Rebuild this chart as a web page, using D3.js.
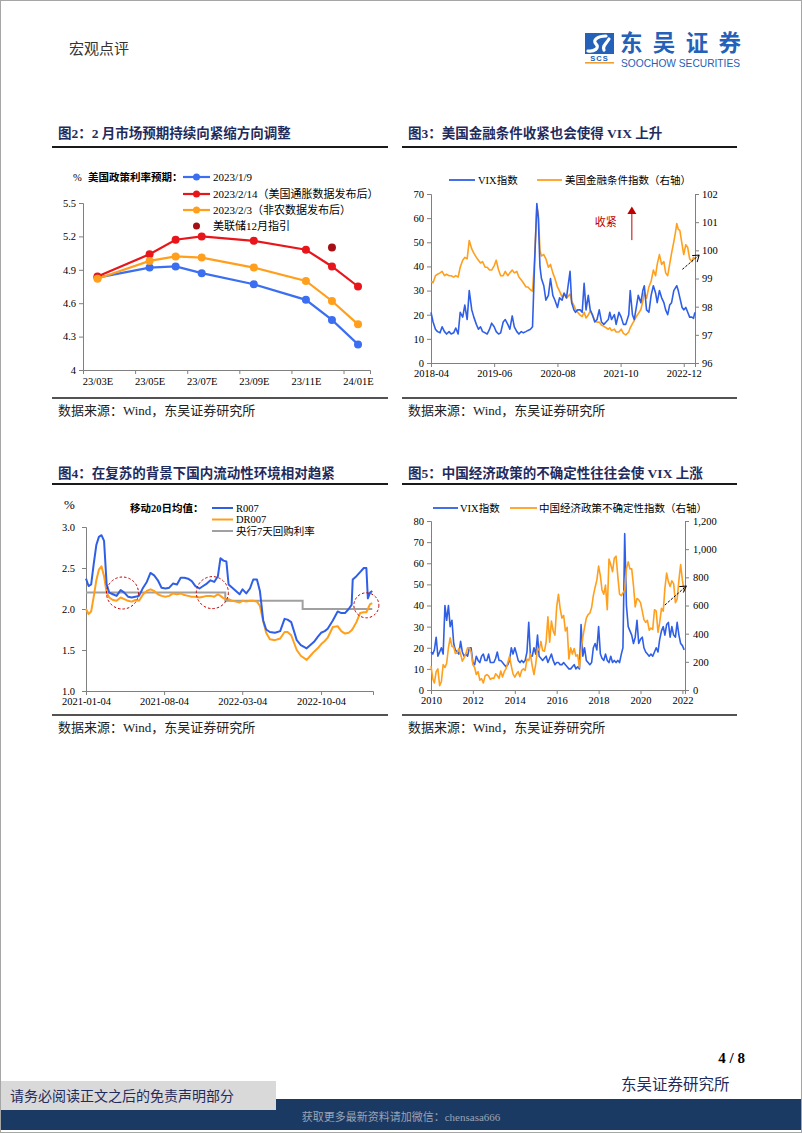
<!DOCTYPE html>
<html><head><meta charset="utf-8">
<script src="https://cdn.jsdelivr.net/npm/d3@7"></script>
<style>
body{margin:0;background:#fff;}
</style></head><body>
<svg id="page" width="802" height="1133"></svg>
<script>
// ---------------- DATA ----------------
// Fig 2
const fig2Months = [3,5,6,7,9,11,12,13];
const fig2TickLabels = ["23/03E","23/05E","23/07E","23/09E","23/11E","24/01E"];
const fig2TickMonths = [3,5,7,9,11,13];
const fig2YTicks = [4,4.3,4.6,4.9,5.2,5.5];
const rateJan9 = [4.83,4.92,4.93,4.87,4.77,4.63,4.45,4.23];
const rateFeb14 = [4.84,5.04,5.17,5.20,5.16,5.08,4.93,4.75];
const rateFeb3 = [4.82,4.98,5.02,5.01,4.92,4.80,4.62,4.41];
const fedDecMonth = 12, fedDecValue = 5.10;
const fig2Series = ["2023/1/9","2023/2/14（美国通胀数据发布后）","2023/2/3（非农数据发布后）","美联储12月指引"];

// Fig 3
const dates3 = ["2018-04-01","2018-04-15","2018-05-01","2018-05-15","2018-06-01","2018-06-15","2018-07-01","2018-07-15","2018-08-01","2018-08-15","2018-09-01","2018-09-15","2018-10-01","2018-10-15","2018-11-01","2018-11-15","2018-12-01","2018-12-15",
"2019-01-01","2019-01-15","2019-02-01","2019-02-15","2019-03-01","2019-03-15","2019-04-01","2019-04-15","2019-05-01","2019-05-15","2019-06-01","2019-06-15","2019-07-01","2019-07-15","2019-08-01","2019-08-15","2019-09-01","2019-09-15","2019-10-01","2019-10-15","2019-11-01","2019-11-15","2019-12-01","2019-12-15",
"2020-01-01","2020-01-15","2020-02-01","2020-02-15","2020-02-28","2020-03-15","2020-03-25","2020-04-05","2020-04-15","2020-05-01","2020-05-15","2020-06-01","2020-06-15","2020-07-01","2020-07-15","2020-08-01","2020-08-15","2020-09-01","2020-09-15","2020-10-01","2020-10-25","2020-11-05","2020-11-20","2020-12-01","2020-12-15",
"2021-01-01","2021-01-15","2021-01-28","2021-02-10","2021-02-25","2021-03-10","2021-03-25","2021-04-10","2021-04-25","2021-05-10","2021-05-25","2021-06-10","2021-06-25","2021-07-10","2021-07-20","2021-08-01","2021-08-20","2021-09-01","2021-09-20","2021-10-05","2021-10-20","2021-11-05","2021-11-25","2021-12-05","2021-12-20",
"2022-01-01","2022-01-15","2022-01-28","2022-02-15","2022-02-28","2022-03-10","2022-03-25","2022-04-10","2022-04-25","2022-05-10","2022-05-25","2022-06-05","2022-06-20","2022-07-05","2022-07-20","2022-08-01","2022-08-15","2022-08-28","2022-09-10","2022-09-25","2022-10-05","2022-10-15","2022-10-25","2022-11-05","2022-11-20","2022-12-01","2022-12-15","2022-12-28",
"2023-01-10","2023-01-25","2023-02-05","2023-02-14"];
const vix3 = [21,17,14,13,12.5,15,13,12,13,12,12.5,14.5,12,21,19,24,18,30,
22,19,16,14,15,13,12.5,12,14,16.5,15,13,12,12.5,17,18,16,14,19.5,15,13,12,13,12.5,
13,13.5,14,15,40,66,60,40,35,32,26,28,35,28,26,23,27,26,29,27,38,25,22,21,22,
22,21,33,22,28,22,20,17,18,22,17,16,17,18,21,18,20,16,21,19,16,16,20,30,20,
18,23,28,25,30,32,22,21,28,32,29,25,30,27,25,22,20,24,25,30,31,32,30,27,23,22,23,21,
19,19,18.5,21];
const fci3 = [98.9,98.85,99.1,99.15,99.2,99.25,99.1,99.15,99.1,99.1,99.05,99.1,99.05,99.4,99.65,99.75,99.7,100.35,
100.05,99.9,99.75,99.65,99.55,99.6,99.4,99.4,99.3,99.3,99.45,99.65,99.3,99.1,99.1,99.25,99.1,99.2,99.3,99.2,99.25,99.05,98.95,98.85,
98.7,98.7,98.6,98.55,99.6,101.55,101.3,100.0,99.8,99.85,99.7,99.4,99.5,99.2,99.0,98.7,98.55,98.35,98.45,98.3,98.45,98.2,98.05,97.9,97.8,
97.7,97.65,97.8,97.6,97.7,97.85,97.7,97.5,97.45,97.45,97.35,97.3,97.25,97.2,97.25,97.15,97.2,97.1,97.1,97.2,97.05,97.0,97.1,97.25,97.4,
97.5,97.65,97.75,97.9,98.2,98.5,98.3,98.7,98.9,99.3,99.1,99.5,99.85,99.5,99.6,99.2,99.1,99.5,99.9,100.3,100.6,100.95,100.75,100.7,100.2,99.85,100.2,100.1,
99.7,99.6,99.75,99.7];
const fig3XTicks = ["2018-04","2019-06","2020-08","2021-10","2022-12"];
const fig3LeftTicks = [0,10,20,30,40,50,60,70];
const fig3RightTicks = [96,97,98,99,100,101,102];

// Fig 4
const dates4 = ["2021-01-04","2021-01-11","2021-01-18","2021-01-25","2021-02-01","2021-02-08","2021-02-15","2021-02-22","2021-03-01","2021-03-08","2021-03-18","2021-03-28","2021-04-08","2021-04-18","2021-04-28","2021-05-08","2021-05-18","2021-05-28","2021-06-08","2021-06-18","2021-06-28","2021-07-08","2021-07-18","2021-07-28","2021-08-08","2021-08-18","2021-08-28","2021-09-08","2021-09-18","2021-09-28","2021-10-08","2021-10-18","2021-10-28","2021-11-08","2021-11-18","2021-11-28","2021-12-08","2021-12-18","2021-12-28",
"2022-01-04","2022-01-12","2022-01-20","2022-01-26","2022-02-05","2022-02-15","2022-02-25","2022-03-05","2022-03-15","2022-03-25","2022-04-03","2022-04-13","2022-04-21","2022-04-30","2022-05-08","2022-05-18","2022-06-01","2022-06-15","2022-06-27","2022-07-05","2022-07-15","2022-07-30","2022-08-10","2022-08-26","2022-09-05","2022-09-15","2022-09-25","2022-10-04","2022-10-14","2022-10-22","2022-11-05","2022-11-18","2022-11-28","2022-12-08","2022-12-18","2022-12-26","2022-12-29",
"2023-01-08","2023-01-18","2023-01-28","2023-02-04","2023-02-08","2023-02-14","2023-02-20"];
const r007 = [2.37,2.28,2.30,2.55,2.78,2.88,2.90,2.83,2.30,2.20,2.18,2.16,2.23,2.20,2.15,2.14,2.15,2.16,2.26,2.33,2.44,2.41,2.35,2.26,2.25,2.26,2.31,2.30,2.38,2.38,2.37,2.34,2.28,2.25,2.28,2.31,2.35,2.33,2.40,
2.62,2.59,2.58,2.30,2.26,2.22,2.18,2.24,2.19,2.25,2.36,2.36,2.22,1.86,1.75,1.72,1.71,1.73,1.88,1.87,1.84,1.62,1.56,1.52,1.56,1.60,1.66,1.71,1.73,1.76,1.86,1.97,1.95,1.95,2.00,2.05,2.36,
2.40,2.45,2.50,2.50,2.13,2.20,2.22];
const dr007 = [2.00,1.94,1.97,2.15,2.35,2.48,2.52,2.40,2.20,2.14,2.11,2.10,2.14,2.12,2.10,2.09,2.11,2.10,2.18,2.22,2.24,2.22,2.18,2.16,2.15,2.16,2.19,2.18,2.19,2.17,2.16,2.15,2.15,2.14,2.15,2.16,2.16,2.15,2.18,
2.16,2.13,2.12,2.12,2.10,2.09,2.08,2.10,2.09,2.10,2.10,2.09,2.04,1.85,1.71,1.63,1.62,1.64,1.72,1.72,1.68,1.50,1.43,1.38,1.43,1.48,1.52,1.57,1.61,1.65,1.78,1.79,1.73,1.70,1.71,1.74,1.76,
1.84,1.95,1.96,1.96,2.00,2.06,2.07];
const policyDates = ["2021-01-04","2022-01-17","2022-08-15","2023-02-20"];
const policyRate = [2.2,2.1,2.0,2.0];
const fig4XTicks = ["2021-01-04","2021-08-04","2022-03-04","2022-10-04"];
const fig4YTicks = [1.0,1.5,2.0,2.5,3.0];
const fig4Series = ["R007","DR007","央行7天回购利率"];
const fig4Circles = [["2021-04-13",2.195,16],["2021-12-13",2.20,16],["2023-02-04",2.045,12.5]];

// Fig 5 (monthly from 2010-01)
const vix5 = [18,17,19,25,16,18,20,17,40,33,
40,30,33,22,19,18,17,23,18,16,
17,16,20,20,13,12,16,14,13,16,
17,14,14,17,13,13,13,15,18,14,
14,13,12,11,12,14,20,17,20,17,
14,13,14,13,14,18,32,16,16,20,
17,26,16,15,14,15,16,13,15,17,
14,12,13,13,12,12,13,12,11,10,
10,11,12,10,11,10,31,16,20,14,
13,12,13,20,22,19,30,17,15,14,
17,14,13,16,13,14,13,14,13,17,
20,74,40,30,28,26,22,25,33,22,
24,25,20,18,17,16,17,16,18,20,
18,24,28,30,26,31,32,25,30,26,
25,32,26,22,21,19];
const epu5 = [170,80,50,130,150,30,60,180,160,190,
300,370,310,305,260,265,295,255,205,228,
258,300,300,270,180,160,110,130,70,80,
50,100,110,100,75,85,82,115,103,82,
135,92,130,152,195,240,170,115,92,115,
130,95,140,150,140,220,210,255,170,110,
185,295,282,345,280,275,340,520,340,490,
420,390,590,680,580,510,530,420,445,220,
300,255,295,240,250,160,280,375,445,510,
535,545,585,670,730,780,880,810,710,680,
745,570,930,890,840,935,950,810,680,670,
690,710,860,910,860,860,740,590,650,640,
620,560,500,480,495,425,440,430,570,560,
410,480,580,560,720,830,770,735,775,755,
620,645,780,890,780,700];
const fig5XTicks = ["2010","2012","2014","2016","2018","2020","2022"];
const fig5LeftTicks = [0,10,20,30,40,50,60,70,80];
const fig5RightTicks = [0,200,400,600,800,1000,1200];

// ---------------- STYLE ----------------
const FONT = '"Liberation Serif","Noto Sans CJK SC",serif';
const SANS = '"Liberation Sans","Noto Sans CJK SC",sans-serif';
const BLUE = "#2f5fe6", BLUE2 = "#3b6ef0", ORANGE = "#ff9f1c", RED = "#e8161b", DKRED = "#a50f15", GRAY = "#a0a0a0";
const AX = "#808080";
const TITLE = "#1f2b5c";
const parse = d3.timeParse("%Y-%m-%d");
const parseM = d3.timeParse("%Y-%m");
const parseY = d3.timeParse("%Y");

const svg = d3.select("#page").attr("font-family", FONT);

function styleAxis(g, fs) {
  g.attr("font-family", FONT).attr("font-size", fs || 10.5);
  g.selectAll("path.domain").attr("stroke", AX);
  g.selectAll(".tick line").attr("stroke", AX);
  g.selectAll("text").attr("fill", "#000");
}

// page border
svg.append("rect").attr("x",0.5).attr("y",0.5).attr("width",801).attr("height",1132)
  .attr("fill","#fff").attr("stroke","#a6a6a6");

// header
svg.append("text").attr("x",69).attr("y",54).attr("font-size",15).attr("fill","#333")
  .attr("font-family",FONT).text("宏观点评");
// logo
const logo = svg.append("g");
logo.append("rect").attr("x",585).attr("y",33).attr("width",29).attr("height",21).attr("fill","#2461b8");
logo.append("path").attr("d","M606,36 C598,36 592,40 596,44 C600,48 594,52 588,51 M609,39 C606,44 602,46 604,50")
  .attr("fill","none").attr("stroke","#fff").attr("stroke-width",3.2).attr("stroke-linecap","round");
logo.append("text").attr("x",599.5).attr("y",60.5).attr("text-anchor","middle").attr("font-size",7.5)
  .attr("font-weight","bold").attr("font-family",SANS).attr("fill","#2461b8").attr("letter-spacing",1).text("SCS");
logo.append("rect").attr("x",585).attr("y",62).attr("width",29).attr("height",1.6).attr("fill","#f0a030");
logo.append("text").attr("x",620).attr("y",50.5).attr("font-size",22.5).attr("font-weight","bold")
  .attr("font-family",'"Noto Sans CJK SC",sans-serif').attr("fill","#2461b8").attr("textLength",121).text("东吴证券");
logo.append("text").attr("x",621).attr("y",66.5).attr("font-size",10.5).attr("font-family",SANS)
  .attr("fill","#2461b8").attr("textLength",119).attr("lengthAdjust","spacingAndGlyphs").text("SOOCHOW SECURITIES");

// panel frames
function frame(x0, x1, yTitle, yTop, yBot, title) {
  svg.append("text").attr("x", x0 + 6).attr("y", yTitle).attr("font-size", 13.5).attr("font-weight", "bold")
    .attr("fill", TITLE).attr("font-family", FONT).text(title);
  svg.append("line").attr("x1", x0).attr("x2", x1).attr("y1", yTop).attr("y2", yTop).attr("stroke", "#1a1a1a").attr("stroke-width", 2);
  svg.append("line").attr("x1", x0).attr("x2", x1).attr("y1", yBot).attr("y2", yBot).attr("stroke", "#1a1a1a").attr("stroke-width", 1.5);
  svg.append("text").attr("x", x0 + 6).attr("y", yBot + 17).attr("font-size", 13).attr("fill", "#222")
    .attr("font-family", FONT).text("数据来源：Wind，东吴证券研究所");
}
frame(52, 388, 138, 147, 398, "图2：2 月市场预期持续向紧缩方向调整");
frame(402, 737, 138, 147, 398, "图3：美国金融条件收紧也会使得 VIX 上升");
frame(52, 388, 478, 484, 715, "图4：在复苏的背景下国内流动性环境相对趋紧");
frame(402, 737, 478, 484, 715, "图5：中国经济政策的不确定性往往会使 VIX 上涨");

// ---------------- FIG 2 ----------------
{
  const x = d3.scaleLinear().domain([2.444, 13.46]).range([83, 370]);
  const y = d3.scaleLinear().domain([4, 5.5]).range([370, 203]);
  const g = svg.append("g");
  const ya = g.append("g").attr("transform","translate(83,0)")
    .call(d3.axisLeft(y).tickValues(fig2YTicks).tickFormat(d => d === 4 ? "4" : d.toFixed(1)).tickSize(4).tickPadding(3));
  styleAxis(ya);
  const xa = g.append("g").attr("transform","translate(0,370)")
    .call(d3.axisBottom(x).tickValues(fig2TickMonths.map(m => m - 0.556)).tickFormat("").tickSize(4));
  styleAxis(xa);
  const xl = g.append("g").attr("transform","translate(0,370)")
    .call(d3.axisBottom(x).tickValues(fig2TickMonths).tickFormat((d,i) => fig2TickLabels[i]).tickSize(0).tickPadding(8));
  styleAxis(xl); xl.select("path.domain").remove();

  const line = d3.line().x((d,i) => x(fig2Months[i])).y(d => y(d));
  [[rateJan9, BLUE2],[rateFeb14, RED],[rateFeb3, ORANGE]].forEach(([arr,c]) => {
    g.append("path").datum(arr).attr("d", line).attr("fill","none").attr("stroke",c).attr("stroke-width",2.2);
    g.selectAll(null).data(arr).enter().append("circle")
      .attr("cx",(d,i)=>x(fig2Months[i])).attr("cy",d=>y(d)).attr("r",4).attr("fill",c);
  });
  g.append("circle").attr("cx", x(fedDecMonth)).attr("cy", y(fedDecValue)).attr("r", 4).attr("fill", DKRED);

  // legend
  g.append("text").attr("x",73).attr("y",177).attr("dy","0.35em").attr("font-size",10.5).text("%");
  g.append("text").attr("x",88).attr("y",177).attr("dy","0.35em").attr("font-size",10.5).attr("font-weight","bold").text("美国政策利率预期：");
  const rows = [177,194,210,226];
  [BLUE2, RED, ORANGE].forEach((c,i) => {
    g.append("line").attr("x1",183).attr("x2",210).attr("y1",rows[i]).attr("y2",rows[i]).attr("stroke",c).attr("stroke-width",2.2);
    g.append("circle").attr("cx",196.5).attr("cy",rows[i]).attr("r",3.5).attr("fill",c);
  });
  g.append("circle").attr("cx",196.5).attr("cy",rows[3]).attr("r",3.5).attr("fill",DKRED);
  fig2Series.forEach((s,i) => g.append("text").attr("x",213).attr("y",rows[i]).attr("dy","0.35em").attr("font-size",11).text(s));
}

// ---------------- FIG 3 ----------------
{
  const x = d3.scaleTime().domain([parse("2018-04-01"), parse("2023-02-15")]).range([431, 695]);
  const yL = d3.scaleLinear().domain([0,70]).range([363,194]);
  const yR = d3.scaleLinear().domain([96,102]).range([363,194]);
  const g = svg.append("g");
  styleAxis(g.append("g").attr("transform","translate(431,0)").call(d3.axisLeft(yL).tickValues(fig3LeftTicks).tickFormat(d3.format("d")).tickSize(4).tickPadding(3)));
  styleAxis(g.append("g").attr("transform","translate(695,0)").call(d3.axisRight(yR).tickValues(fig3RightTicks).tickFormat(d3.format("d")).tickSize(4).tickPadding(3)));
  styleAxis(g.append("g").attr("transform","translate(0,363)").call(d3.axisBottom(x).tickValues(fig3XTicks.map(parseM)).tickFormat(d3.timeFormat("%Y-%m")).tickSize(4).tickPadding(3)));

  const dts = dates3.map(parse);
  g.append("path").datum(fci3).attr("d", d3.line().x((d,i)=>x(dts[i])).y(d=>yR(d)))
    .attr("fill","none").attr("stroke",ORANGE).attr("stroke-width",1.6).attr("stroke-linejoin","round");
  g.append("path").datum(vix3).attr("d", d3.line().x((d,i)=>x(dts[i])).y(d=>yL(d)))
    .attr("fill","none").attr("stroke",BLUE).attr("stroke-width",1.6).attr("stroke-linejoin","round");

  // legend
  g.append("line").attr("x1",449).attr("x2",475).attr("y1",180).attr("y2",180).attr("stroke",BLUE).attr("stroke-width",1.8);
  g.append("text").attr("x",478).attr("y",180).attr("dy","0.35em").attr("font-size",10.5).text("VIX指数");
  g.append("line").attr("x1",537).attr("x2",562).attr("y1",180).attr("y2",180).attr("stroke",ORANGE).attr("stroke-width",1.8);
  g.append("text").attr("x",565).attr("y",180).attr("dy","0.35em").attr("font-size",10.5).text("美国金融条件指数（右轴）");

  // annotations
  const ax = x(parse("2021-12-16"));
  g.append("line").attr("x1",ax).attr("x2",ax).attr("y1",yL(50.9)).attr("y2",yL(62)).attr("stroke","#c00000").attr("stroke-width",1);
  const ty = yL(64.8);
  g.append("path").attr("d",`M${ax-4.5},${ty+7.5}L${ax+4.5},${ty+7.5}L${ax},${ty}Z`).attr("fill","#c00000");
  g.append("text").attr("x",x(parse("2021-06-23"))).attr("y",yL(58.4)).attr("dy","0.35em").attr("text-anchor","middle")
    .attr("font-size",11).attr("fill","#c00000").text("收紧");
  const x1 = x(parse("2022-11-22")), y1 = yL(38.8), x2 = x(parse("2023-03-15")), y2 = yL(44.7);
  g.append("line").attr("x1",x1).attr("y1",y1).attr("x2",x2).attr("y2",y2).attr("stroke","#000").attr("stroke-width",1).attr("stroke-dasharray","2.5,1.5");
  g.append("path").attr("d",`M${x2-7},${y2+0.5}L${x2},${y2}L${x2-2},${y2+7}`).attr("fill","none").attr("stroke","#000").attr("stroke-width",1);
}

// ---------------- FIG 4 ----------------
{
  const x = d3.scaleTime().domain([parse("2021-01-04"), parse("2023-02-22")]).range([86, 373]);
  const y = d3.scaleLinear().domain([1,3]).range([691,527]);
  const g = svg.append("g");
  styleAxis(g.append("g").attr("transform","translate(86,0)").call(d3.axisLeft(y).tickValues(fig4YTicks).tickFormat(d3.format(".1f")).tickSize(4).tickPadding(7)));
  styleAxis(g.append("g").attr("transform","translate(0,691)").call(d3.axisBottom(x).tickValues(fig4XTicks.map(parse)).tickFormat(d3.timeFormat("%Y-%m-%d")).tickSize(4).tickPadding(3)));

  const dts = dates4.map(parse);
  g.append("path").datum(policyRate).attr("d", d3.line().curve(d3.curveStepAfter).x((d,i)=>x(parse(policyDates[i]))).y(d=>y(d)))
    .attr("fill","none").attr("stroke",GRAY).attr("stroke-width",2);
  g.append("path").datum(dr007).attr("d", d3.line().x((d,i)=>x(dts[i])).y(d=>y(d)))
    .attr("fill","none").attr("stroke",ORANGE).attr("stroke-width",2).attr("stroke-linejoin","round");
  g.append("path").datum(r007).attr("d", d3.line().x((d,i)=>x(dts[i])).y(d=>y(d)))
    .attr("fill","none").attr("stroke",BLUE).attr("stroke-width",2).attr("stroke-linejoin","round");

  fig4Circles.forEach(([d,v,r]) => g.append("circle").attr("cx",x(parse(d))).attr("cy",y(v)).attr("r",r)
    .attr("fill","none").attr("stroke","#c00000").attr("stroke-width",1).attr("stroke-dasharray","2.5,2"));

  g.append("text").attr("x",64).attr("y",504).attr("dy","0.35em").attr("font-size",13).text("%");
  g.append("text").attr("x",130).attr("y",508).attr("dy","0.35em").attr("font-size",10.5).attr("font-weight","bold").text("移动20日均值：");
  const rows = [508,519.5,531];
  [BLUE, ORANGE, GRAY].forEach((c,i) => {
    g.append("line").attr("x1",212).attr("x2",233).attr("y1",rows[i]).attr("y2",rows[i]).attr("stroke",c).attr("stroke-width",2);
    g.append("text").attr("x",236).attr("y",rows[i]).attr("dy","0.35em").attr("font-size",10.5).text(fig4Series[i]);
  });
}

// ---------------- FIG 5 ----------------
{
  const x = d3.scaleTime().domain([parse("2010-01-01"), parse("2022-02-15")]).range([431, 685]);
  const yL = d3.scaleLinear().domain([0,80]).range([690,521]);
  const yR = d3.scaleLinear().domain([0,1200]).range([690,521]);
  const g = svg.append("g");
  styleAxis(g.append("g").attr("transform","translate(431,0)").call(d3.axisLeft(yL).tickValues(fig5LeftTicks).tickFormat(d3.format("d")).tickSize(4).tickPadding(3)));
  styleAxis(g.append("g").attr("transform","translate(685,0)").call(d3.axisRight(yR).tickValues(fig5RightTicks).tickFormat(d3.format(",")).tickSize(4).tickPadding(4)));
  styleAxis(g.append("g").attr("transform","translate(0,690)").call(d3.axisBottom(x).tickValues(fig5XTicks.map(parseY)).tickFormat(d3.timeFormat("%Y")).tickSize(4).tickPadding(3)));

  const months = d3.timeMonth.range(parse("2010-01-01"), parse("2022-03-01"));
  g.append("path").datum(vix5).attr("d", d3.line().x((d,i)=>x(months[i])).y(d=>yL(d)))
    .attr("fill","none").attr("stroke",BLUE).attr("stroke-width",1.6).attr("stroke-linejoin","round");
  g.append("path").datum(epu5).attr("d", d3.line().x((d,i)=>x(months[i])).y(d=>yR(d)))
    .attr("fill","none").attr("stroke",ORANGE).attr("stroke-width",1.6).attr("stroke-linejoin","round");

  g.append("line").attr("x1",433).attr("x2",458).attr("y1",508).attr("y2",508).attr("stroke",BLUE).attr("stroke-width",1.8);
  g.append("text").attr("x",460).attr("y",508).attr("dy","0.35em").attr("font-size",10.5).text("VIX指数");
  g.append("line").attr("x1",510).attr("x2",537).attr("y1",508).attr("y2",508).attr("stroke",ORANGE).attr("stroke-width",1.8);
  g.append("text").attr("x",539).attr("y",508).attr("dy","0.35em").attr("font-size",10.5).text("中国经济政策不确定性指数（右轴）");

  const x1 = x(parse("2021-03-01")), y1 = yL(40.2), x2 = x(parse("2022-03-10")), y2 = yL(49.2);
  g.append("line").attr("x1",x1).attr("y1",y1).attr("x2",x2).attr("y2",y2).attr("stroke","#000").attr("stroke-width",1).attr("stroke-dasharray","2.5,1.5");
  g.append("path").attr("d",`M${x2-7},${y2+0.5}L${x2},${y2}L${x2-3},${y2+6.5}`).attr("fill","none").attr("stroke","#000").attr("stroke-width",1);
}

// ---------------- FOOTER ----------------
svg.append("text").attr("x",745).attr("y",1063).attr("text-anchor","end").attr("font-size",15).attr("font-weight","bold").text("4 / 8");
svg.append("text").attr("x",621).attr("y",1090).attr("font-size",15.5).attr("fill","#1f2b5c").text("东吴证券研究所");
svg.append("rect").attr("x",1).attr("y",1099).attr("width",800).attr("height",31).attr("fill","#1b3a63");
svg.append("rect").attr("x",1).attr("y",1081).attr("width",275).attr("height",29).attr("fill","#d9d9d9");
svg.append("text").attr("x",10).attr("y",1101).attr("font-size",14).attr("fill","#1f2b5c").text("请务必阅读正文之后的免责声明部分");
svg.append("text").attr("x",401).attr("y",1121).attr("text-anchor","middle").attr("font-size",11).attr("fill","#9aa3b5").text("获取更多最新资料请加微信：chensasa666");
</script></body></html>
